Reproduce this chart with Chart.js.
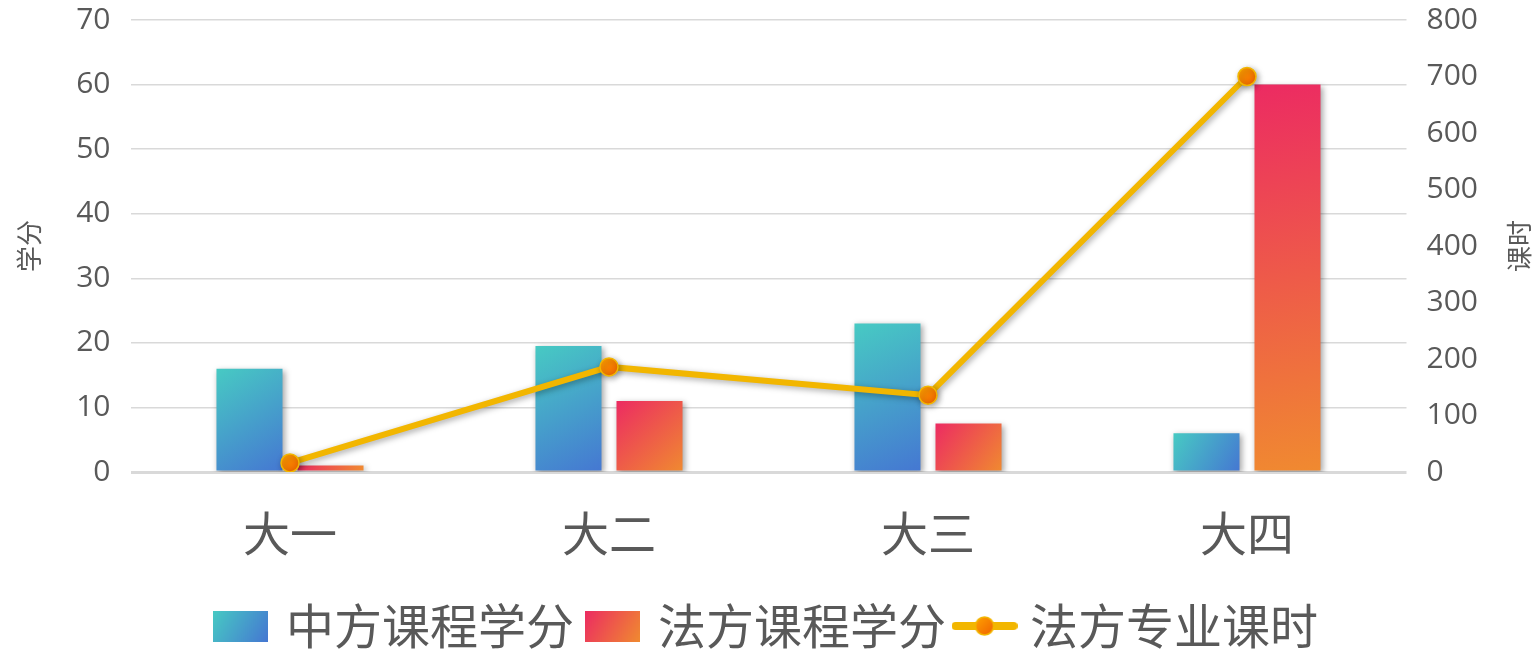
<!DOCTYPE html>
<html><head><meta charset="utf-8">
<script src="https://cdn.jsdelivr.net/npm/chart.js@4.4.1/dist/chart.umd.min.js"></script>
<style>html,body{margin:0;padding:0;background:#fff}#wrap{width:1537px;height:660px}</style>
</head><body><div id="wrap"><canvas id="c" width="1537" height="660"></canvas></div>
<script>
const categories = ['大一', '大二', '大三', '大四'];
const chinaCredits = [16, 19.5, 23, 6];
const franceCredits = [1, 11, 7.5, 60];
const franceHours = [16, 186, 136, 700];
const seriesNames = ['中方课程学分', '法方课程学分', '法方专业课时'];
const leftAxisTitle = '学分';
const rightAxisTitle = '课时';

const TEXT = '#595959';
const FONT = "'Open Sans', 'Noto Sans CJK SC', sans-serif";
const CJK = "'Noto Sans CJK SC', sans-serif";
const BLUE = ['#47cac3', '#4577d2'];
const RED = ['#ec2b62', '#f08a30'];
const CAT_PCT = 0.508, BAR_PCT = 0.815;

function barGradient(cols) {
  return (ctx) => {
    const chart = ctx.chart;
    const sc = chart.scales;
    if (ctx.type !== 'data' || !sc || !sc.x || !chart.chartArea) return cols[0];
    const slot = sc.x.width / categories.length * CAT_PCT / 2;
    const cx = sc.x.getPixelForValue(ctx.dataIndex) + (ctx.datasetIndex === 0 ? -0.5 : 0.5) * slot;
    const half = slot * BAR_PCT / 2;
    const yTop = sc.y.getPixelForValue(ctx.raw);
    const yBot = sc.y.getPixelForValue(0);
    const g = chart.ctx.createLinearGradient(cx - half, yTop, cx + half, yBot);
    g.addColorStop(0, cols[0]); g.addColorStop(1, cols[1]);
    return g;
  };
}
function pointGradient(ctx) {
  const chart = ctx.chart;
  const sc = chart.scales;
  if (ctx.type !== 'data' || !sc || !sc.y1 || !chart.chartArea) return '#f7870f';
  const x = sc.x.getPixelForValue(ctx.dataIndex);
  const y = sc.y1.getPixelForValue(ctx.raw);
  const g = chart.ctx.createLinearGradient(x - 8, y - 8, x + 8, y + 8);
  g.addColorStop(0, '#ffa200'); g.addColorStop(1, '#f06200');
  return g;
}

function boxIcon(cols) {
  const c = document.createElement('canvas'); c.width = 55; c.height = 31;
  const g = c.getContext('2d');
  const gr = g.createLinearGradient(0, 0, 55, 31);
  gr.addColorStop(0, cols[0]); gr.addColorStop(1, cols[1]);
  g.fillStyle = gr; g.fillRect(0, 0, 55, 31);
  return c;
}
function lineIcon() {
  const c = document.createElement('canvas'); c.width = 66; c.height = 24;
  const g = c.getContext('2d');
  g.strokeStyle = '#f2b600'; g.lineWidth = 8; g.lineCap = 'round';
  g.beginPath(); g.moveTo(4, 12); g.lineTo(62, 12); g.stroke();
  const gr = g.createLinearGradient(24, 3, 42, 21);
  gr.addColorStop(0, '#ffa200'); gr.addColorStop(1, '#f06200');
  g.fillStyle = gr; g.beginPath(); g.arc(33, 12, 9, 0, Math.PI * 2); g.fill();
  g.strokeStyle = '#f2b600'; g.lineWidth = 1.5; g.stroke();
  return c;
}
const legendIcons = [boxIcon(BLUE), boxIcon(RED), lineIcon()];

const shadowPlugin = {
  id: 'shadow',
  beforeDatasetDraw(chart) {
    const c = chart.ctx; c.save();
    c.shadowColor = 'rgba(0,0,0,0.35)'; c.shadowBlur = 6; c.shadowOffsetX = 2; c.shadowOffsetY = 2;
  },
  afterDatasetDraw(chart) { chart.ctx.restore(); }
};
const rightTitlePlugin = {
  id: 'rightTitle',
  afterDraw(chart) {
    const s = chart.scales.y1, c = chart.ctx;
    c.save();
    c.translate(s.right - 2 - 15.6, (chart.chartArea.top + chart.chartArea.bottom) / 2);
    c.rotate(-Math.PI / 2);
    c.font = "26px " + CJK; c.fillStyle = TEXT; c.textAlign = 'center'; c.textBaseline = 'middle';
    c.fillText(rightAxisTitle, 0, 0);
    c.restore();
  }
};
const fitY = (s) => { s.width = 130.5; s.paddingTop = 0; s.paddingBottom = 0; };

new Chart(document.getElementById('c'), {
  data: {
    labels: categories,
    datasets: [
      { type: 'bar', label: seriesNames[0], data: chinaCredits, yAxisID: 'y', backgroundColor: barGradient(BLUE),
        categoryPercentage: CAT_PCT, barPercentage: BAR_PCT, order: 1 },
      { type: 'bar', label: seriesNames[1], data: franceCredits, yAxisID: 'y', backgroundColor: barGradient(RED),
        categoryPercentage: CAT_PCT, barPercentage: BAR_PCT, order: 1 },
      { type: 'line', label: seriesNames[2], data: franceHours, yAxisID: 'y1', borderColor: '#f2b600', borderWidth: 6,
        tension: 0, pointRadius: 9, pointBorderWidth: 1.5, pointBorderColor: '#f2b600', pointBackgroundColor: pointGradient,
        order: 0 }
    ]
  },
  options: {
    responsive: false,
    animation: false,
    layout: { padding: { top: 20, left: 0, right: 0, bottom: 0 } },
    plugins: {
      tooltip: { enabled: false },
      legend: {
        position: 'bottom',
        maxHeight: 75,
        labels: {
          usePointStyle: true, pointStyleWidth: 43, padding: 17, color: TEXT,
          font: { family: CJK, size: 48 },
          generateLabels: (chart) => chart.data.datasets.map((ds, i) => ({
            text: ds.label, pointStyle: legendIcons[i], fillStyle: 'rgba(0,0,0,0)', strokeStyle: 'rgba(0,0,0,0)',
            lineWidth: 0, hidden: false, datasetIndex: i, fontColor: TEXT
          }))
        }
      }
    },
    scales: {
      x: {
        grid: { display: false }, border: { display: false },
        ticks: { color: TEXT, font: { family: CJK, size: 47 }, padding: 25 },
        afterFit: (s) => { s.height = 113; }
      },
      y: {
        position: 'left', min: 0, max: 70,
        ticks: { stepSize: 10, color: TEXT, font: { family: FONT, size: 30 }, padding: 20 },
        grid: { color: '#d9d9d9', lineWidth: (c) => c.index === 0 ? 3 : 1.5, drawTicks: false },
        border: { display: false },
        title: { display: true, text: leftAxisTitle, color: TEXT, font: { family: CJK, size: 26 }, padding: { top: 14, bottom: 33 } },
        afterFit: fitY
      },
      y1: {
        position: 'right', min: 0, max: 800,
        ticks: { stepSize: 100, color: TEXT, font: { family: FONT, size: 30 }, padding: 20 },
        grid: { drawOnChartArea: false, drawTicks: false },
        border: { display: false },
        title: { display: true, text: rightAxisTitle, color: 'rgba(0,0,0,0)', font: { family: CJK, size: 26 }, padding: { top: 2, bottom: 28 } },
        afterFit: fitY
      }
    }
  },
  plugins: [shadowPlugin, rightTitlePlugin]
});
</script>
</body></html>
